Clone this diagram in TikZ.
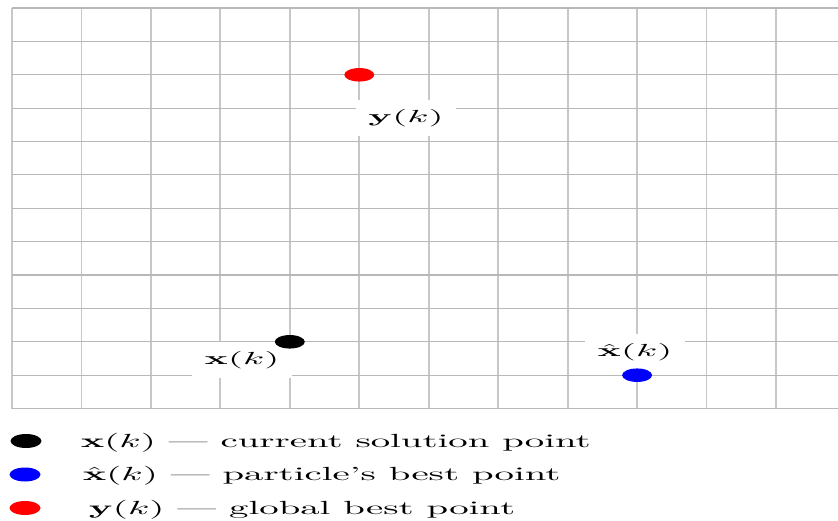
\documentclass[tikz,border=0pt]{standalone}
\usetikzlibrary{shapes.geometric}
\begin{document}
\begin{tikzpicture}[x=1pt,y=-1pt,
  gridline/.style={draw=black!22,line width=1.8pt},
  dot/.style={ellipse,inner sep=0pt,minimum width=30pt,minimum height=13.5pt},
  lbl/.style={fill=white,inner xsep=3.2pt,inner ysep=5.3pt,font=\normalsize,xscale=3.85,yscale=1.75},
  legtxt/.style={inner sep=0pt,anchor=base west,font=\normalsize,xscale=3.88,yscale=1.9}]
\useasboundingbox (0,0) rectangle (838,521);
% grid
\foreach \i in {0,...,11}{
  \draw[gridline] ({12+69.45*\i},8) -- ({12+69.45*\i},408.6);
}
\foreach \j in {0,...,12}{
  \draw[gridline,draw=black!28,line width=1.1pt] (12,{8+33.38*\j}) -- (838,{8+33.38*\j});
}
% labels
\node[lbl] (xkl) at (242,360) {$\mathbf{x}(k)$};
\node[lbl] (xhl) at (635,352) {$\hat{\mathbf{x}}(k)$};
\node[lbl] (ykl) at (406,118) {$\mathbf{y}(k)$};
% points
\node[dot,fill=black] (xk) at (289.8,341.8) {};
\node[dot,fill=blue] (xh) at (637.1,375.2) {};
\node[dot,fill=red] (yk) at (359.3,74.8) {};
% legend
\node[dot,fill=black,minimum width=31pt,minimum height=14pt] (l1) at (26,441) {};
\node[dot,fill=blue,minimum width=31pt,minimum height=14pt] (l2) at (25,474.5) {};
\node[dot,fill=red,minimum width=31pt,minimum height=14pt] (l3) at (25,508) {};
\node[legtxt] (t1) at (80,447) {$\mathbf{x}(k)$ --- current solution point};
\node[legtxt] (t2) at (82,480.5) {$\hat{\mathbf{x}}(k)$ --- particle's best point};
\node[legtxt] (t3) at (88,514) {$\mathbf{y}(k)$ --- global best point};
\end{tikzpicture}
\end{document}
